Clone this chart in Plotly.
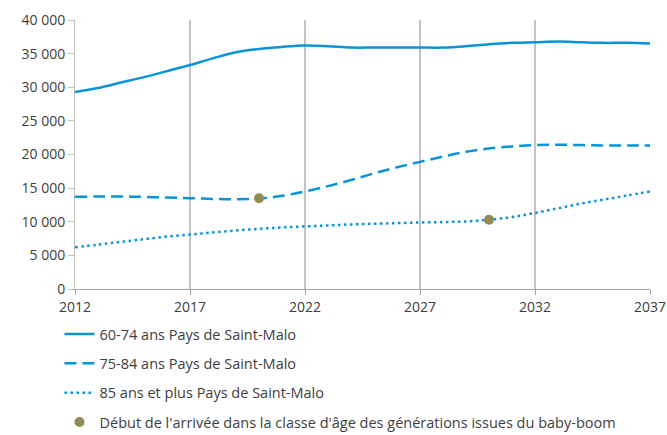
import plotly.graph_objects as go

years = list(range(2012, 2038))
s_60_74 = [29300, 29900, 30700, 31500, 32400, 33300, 34300, 35200, 35700, 36000,
           36200, 36100, 35900, 35900, 35900, 35900, 35900, 36100, 36400, 36600,
           36700, 36800, 36700, 36600, 36600, 36500]
s_75_84 = [13700, 13750, 13750, 13700, 13600, 13500, 13400, 13350, 13450, 13850,
           14500, 15300, 16200, 17200, 18100, 18900, 19700, 20400, 20900, 21200,
           21400, 21450, 21400, 21350, 21350, 21350]
s_85 = [6200, 6600, 7000, 7400, 7800, 8100, 8400, 8700, 8950, 9150,
        9300, 9450, 9600, 9700, 9800, 9900, 9950, 10050, 10300, 10700,
        11300, 12000, 12700, 13300, 13900, 14500]
boom_x = [2020, 2030]
boom_y = [13500, 10300]

names = ["60-74 ans Pays de Saint-Malo", "75-84 ans Pays de Saint-Malo",
         "85 ans et plus Pays de Saint-Malo",
         "Début de l'arrivée dans la classe d'âge des générations issues du baby-boom"]

y_ticks = list(range(0, 40001, 5000))
y_labels = ["0", "5 000", "10 000", "15 000", "20 000", "25 000", "30 000", "35 000", "40 000"]
x_ticks = [2012, 2017, 2022, 2027, 2032, 2037]

blue = "#0A93D6"
olive = "#948A54"
fig = go.Figure()
fig.add_trace(go.Scatter(x=years, y=s_60_74, mode="lines", name=names[0], legendgroup="a",
                         line=dict(color=blue, width=2.5, shape="spline")))
fig.add_trace(go.Scatter(x=years, y=s_75_84, mode="lines", name=names[1], legendgroup="b",
                         line=dict(color=blue, width=2.5, shape="spline", dash="12px,6px")))
fig.add_trace(go.Scatter(x=years, y=s_85, mode="lines", name=names[2], legendgroup="c",
                         line=dict(color=blue, width=2.5, shape="spline", dash="2.5px,3.5px")))
fig.add_trace(go.Scatter(x=boom_x, y=boom_y, mode="markers", name=names[3], legendgroup="d",
                         marker=dict(color=olive, size=10)))

font = "Open Sans"
fig.update_layout(
    width=667, height=435,
    margin=dict(l=75, r=17, t=20, b=146, autoexpand=False),
    paper_bgcolor="white", plot_bgcolor="white",
    font=dict(family=font, size=14, color="#404040"),
    showlegend=True,
    legend=dict(orientation="v", x=-0.027, xanchor="left", y=-0.108, yanchor="top",
                font=dict(size=14.5, color="#404040"), tracegroupgap=7.5,
                bgcolor="rgba(0,0,0,0)"),
    xaxis=dict(range=[2012, 2037], tickvals=x_ticks, showgrid=True, gridcolor="#C4C4C4",
               gridwidth=1.5, showline=True, linecolor="#A6A6A6", linewidth=1,
               ticks="outside", ticklen=5, tickcolor="#A6A6A6", zeroline=False,
               tickfont=dict(size=14, color="#404040")),
    yaxis=dict(range=[0, 40000], tickvals=y_ticks, ticktext=y_labels, showgrid=False,
               showline=True, linecolor="#BFBFBF", linewidth=1, ticks="outside",
               ticklen=6, tickcolor="#BFBFBF", zeroline=False,
               tickfont=dict(size=14, color="#404040")),
)
fig.write_html("out.html", config={"displayModeBar": False},
               post_script="document.body.style.margin='0';document.body.style.overflow='hidden';")
